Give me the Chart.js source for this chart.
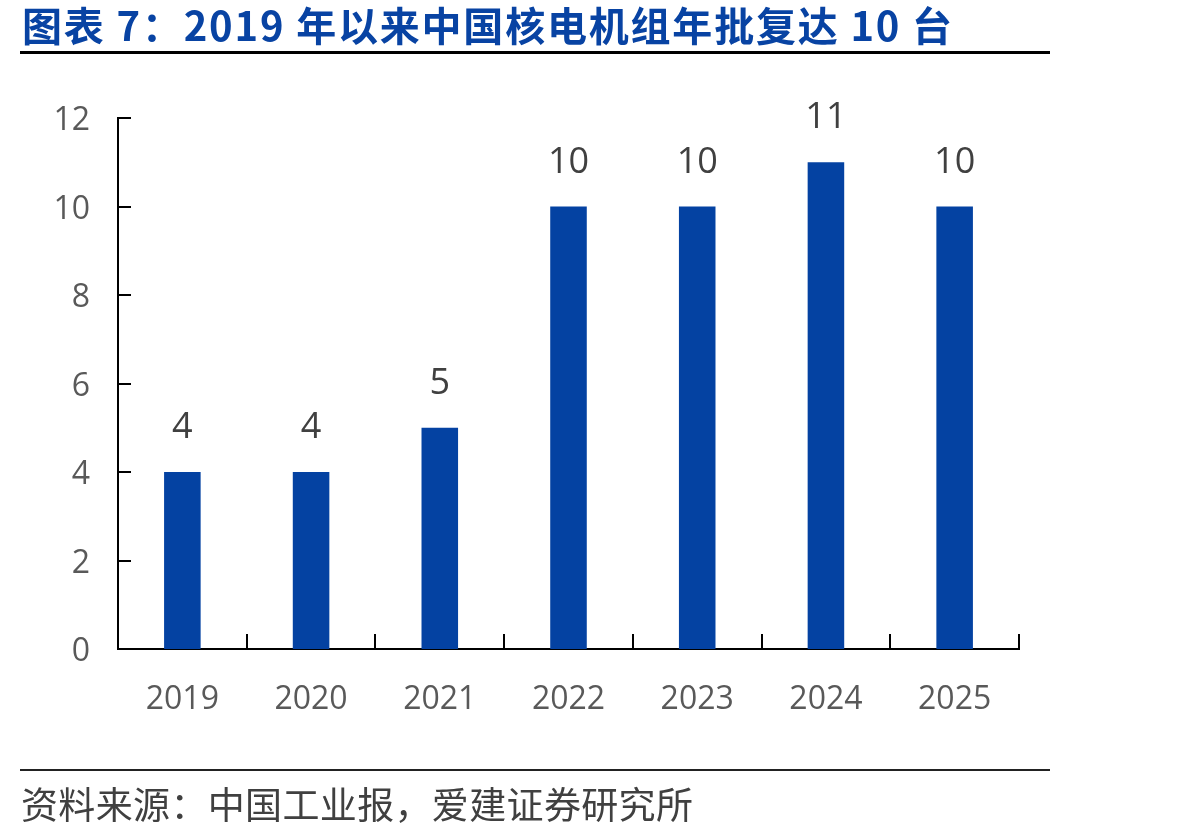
<!DOCTYPE html>
<html>
<head>
<meta charset="utf-8">
<script src="https://cdn.jsdelivr.net/npm/chart.js@4.4.1/dist/chart.umd.min.js"></script>
<style>
  html, body { margin: 0; padding: 0; background: #fff; }
  body { width: 1199px; height: 838px; position: relative; overflow: hidden; }
  #title { position: absolute; left: 22px; top: 4px; font-family: "Noto Sans CJK SC", sans-serif; font-weight: 700; font-size: 40px; line-height: 1; color: #0843A3; white-space: nowrap; letter-spacing: 1.8px; }
  #titleLine { position: absolute; left: 20px; top: 51px; width: 1030px; height: 3px; background: #000; }
  #footLine { position: absolute; left: 20px; top: 769px; width: 1030px; height: 2px; background: #222; }
  #source { position: absolute; left: 21px; top: 785px; font-family: "Noto Sans CJK SC", sans-serif; font-weight: 400; font-size: 37px; line-height: 1; color: #404040; white-space: nowrap; letter-spacing: 0.35px; }
  #wrap { position: absolute; left: 0; top: 0; width: 1199px; height: 838px; }
</style>
</head>
<body>
<div id="wrap"><canvas id="c" width="1199" height="838"></canvas></div>
<div id="title">图表 7：2019 年以来中国核电机组年批复达 10 台</div>
<div id="titleLine"></div>
<div id="footLine"></div>
<div id="source">资料来源：中国工业报，爱建证券研究所</div>
<script>
const categories = ["2019", "2020", "2021", "2022", "2023", "2024", "2025"];
const approvals = [4, 4, 5, 10, 10, 11, 10];
const yTicks = [0, 2, 4, 6, 8, 10, 12];

const inwardTicks = {
  id: 'inwardTicks',
  afterDatasetsDraw(chart) {
    const ctx = chart.ctx;
    const x = chart.scales.x, y = chart.scales.y;
    const area = chart.chartArea;
    ctx.save();
    ctx.strokeStyle = '#000';
    ctx.lineWidth = 2;
    yTicks.forEach(v => {
      const py = Math.round(y.getPixelForValue(v));
      ctx.beginPath();
      ctx.moveTo(area.left, py);
      ctx.lineTo(area.left + 13, py);
      ctx.stroke();
    });
    for (let i = 0; i <= categories.length; i++) {
      const px = Math.round(x.getPixelForValue(i - 0.5));
      ctx.beginPath();
      ctx.moveTo(px, area.bottom);
      ctx.lineTo(px, area.bottom - 15);
      ctx.stroke();
    }
    // data labels
    ctx.fillStyle = '#404040';
    ctx.font = '36px "Open Sans"';
    ctx.textAlign = 'center';
    ctx.textBaseline = 'alphabetic';
    const meta = chart.getDatasetMeta(0);
    meta.data.forEach((bar, i) => {
      ctx.fillText(String(approvals[i]), bar.x, bar.y - 34);
    });
    ctx.restore();
  }
};

new Chart(document.getElementById('c'), {
  type: 'bar',
  data: {
    labels: categories,
    datasets: [{
      data: approvals,
      backgroundColor: '#0442A2',
      borderWidth: 0,
      barPercentage: 0.284,
      categoryPercentage: 1
    }]
  },
  options: {
    responsive: false,
    animation: false,
    events: [],
    layout: { padding: { left: 0, top: 118, right: 180, bottom: 0 } },
    plugins: { legend: { display: false }, tooltip: { enabled: false }, title: { display: false } },
    scales: {
      x: {
        offset: true,
        grid: { display: false, drawTicks: false },
        border: { display: true, color: '#000', width: 2 },
        ticks: { color: '#595959', font: { family: 'Open Sans', size: 32 }, padding: 32, maxRotation: 0 },
        afterFit: s => { s.height = 189; }
      },
      y: {
        min: 0, max: 12,
        afterBuildTicks: s => { s.ticks = yTicks.map(v => ({ value: v })); },
        grid: { display: false, drawTicks: false },
        border: { display: true, color: '#000', width: 2 },
        ticks: { color: '#595959', font: { family: 'Open Sans', size: 32 }, padding: 28, labelOffset: 3 },
        afterFit: s => { s.width = 118; }
      }
    }
  },
  plugins: [inwardTicks]
});
</script>
</body>
</html>
